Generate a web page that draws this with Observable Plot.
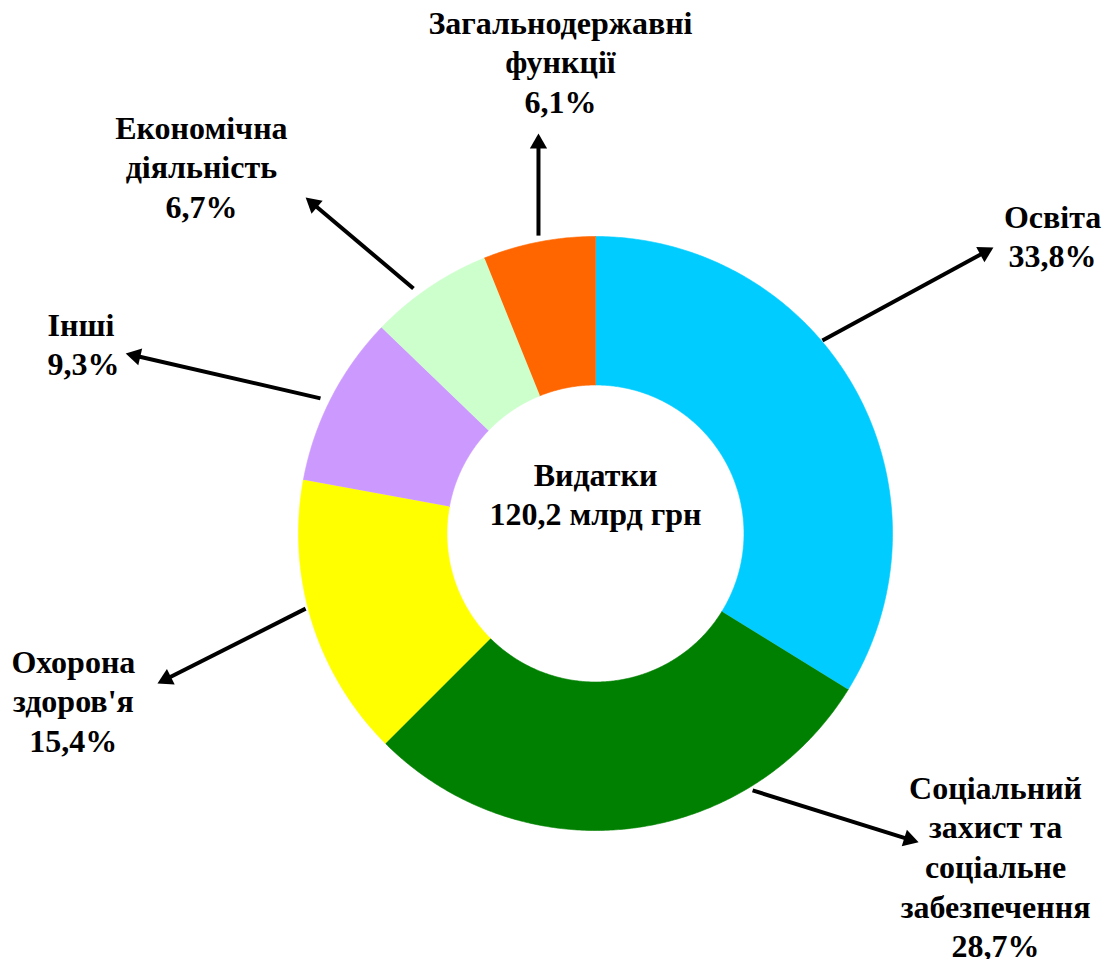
<!DOCTYPE html>
<html>
<head>
<meta charset="utf-8">
<script src="https://cdn.jsdelivr.net/npm/d3@7"></script>
<script src="https://cdn.jsdelivr.net/npm/@observablehq/plot@0.6"></script>
<style>
  html, body { margin: 0; padding: 0; background: #ffffff; }
  #chart svg { display: block; }
</style>
</head>
<body>
<div id="chart"></div>
<script>
// ---- data ----
const categories = ["Освіта", "Соціальний захист та соціальне забезпечення", "Охорона здоров'я", "Інші", "Економічна діяльність", "Загальнодержавні функції"];
const shares = [33.8, 28.7, 15.4, 9.3, 6.7, 6.1];
const colors = ["#00CCFF", "#008000", "#FFFF00", "#CC99FF", "#CCFFCC", "#FF6600"];
const labelNames = ["Освіта", "Соціальний\nзахист та\nсоціальне\nзабезпечення", "Охорона\nздоров'я", "Інші", "Економічна\nдіяльність", "Загальнодержавні\nфункції"];
const centerTitle = "Видатки\n120,2 млрд грн";

// annotation placement, in units of the outer radius (centre = 0,0)
const labelX = [1.539, 1.347, -1.758, -1.845, -1.327, -0.118];
const labelY = [1.125, -0.798, -0.374, 0.761, 1.424, 1.778];
const labelAlign = ["middle", "middle", "middle", "start", "middle", "middle"];
const centerY = 0.256;
const arrowX1 = [0.764, 0.529, -0.976, -0.926, -0.613, -0.192];
const arrowY1 = [0.650, -0.865, -0.253, 0.455, 0.825, 1.003];
const arrowX2 = [1.340, 1.088, -1.475, -1.582, -0.976, -0.192];
const arrowY2 = [0.963, -1.040, -0.505, 0.606, 1.131, 1.347];

const innerRatio = 0.5;
const W = 1107, H = 959;
const cx = 595, cy = 533, R = 297; // layout of the donut in the frame

// ---- build slice polygons ----
const slicePts = [];
let cum = 0;
shares.forEach((s, i) => {
  const a0 = cum / 100 * 2 * Math.PI;
  cum += s;
  const a1 = cum / 100 * 2 * Math.PI;
  const n = Math.max(2, Math.ceil((a1 - a0) / (Math.PI / 360)));
  for (let k = 0; k <= n; k++) {
    const a = a0 + (a1 - a0) * k / n;
    slicePts.push({cat: categories[i], color: colors[i], x: Math.sin(a), y: Math.cos(a)});
  }
  for (let k = n; k >= 0; k--) {
    const a = a0 + (a1 - a0) * k / n;
    slicePts.push({cat: categories[i], color: colors[i], x: innerRatio * Math.sin(a), y: innerRatio * Math.cos(a)});
  }
});

// ---- arrows ----
const headBack = 10 / R; // triangle centre behind the tip
const arrows = categories.map((c, i) => {
  const dx = arrowX2[i] - arrowX1[i], dy = arrowY2[i] - arrowY1[i];
  const len = Math.hypot(dx, dy);
  return {
    cat: c,
    x1: arrowX1[i], y1: arrowY1[i],
    hx: arrowX2[i] - dx / len * headBack,
    hy: arrowY2[i] - dy / len * headBack,
    rot: Math.atan2(dx, dy) * 180 / Math.PI
  };
});

const fmt = v => v.toFixed(1).replace(".", ",") + "%";
const labels = categories.map((c, i) => ({
  text: labelNames[i] + "\n" + fmt(shares[i]),
  x: labelX[i], y: labelY[i], align: labelAlign[i]
}));

const textOpts = {
  fontFamily: "Liberation Serif",
  fontWeight: "bold",
  fontSize: 32,
  lineHeight: 1.24,
  lineAnchor: "top",
  fill: "#000000"
};

const chart = Plot.plot({
  width: W,
  height: H,
  margin: 0,
  x: {domain: [-cx / R, (W - cx) / R], range: [0, W], axis: null},
  y: {domain: [(cy - H) / R, cy / R], range: [H, 0], axis: null},
  color: {type: "identity"},
  style: {background: "#ffffff", fontFamily: "Liberation Serif"},
  marks: [
    Plot.line(slicePts, {x: "x", y: "y", z: "cat", fill: "color", stroke: "color", strokeWidth: 0.6}),
    Plot.link(arrows, {x1: "x1", y1: "y1", x2: "hx", y2: "hy", stroke: "#000000", strokeWidth: 4}),
    Plot.dot(arrows, {x: "hx", y: "hy", symbol: "triangle", r: 6.4, rotate: "rot", fill: "#000000", stroke: "none"}),
    Plot.text(labels.filter(d => d.align === "middle"), {x: "x", y: "y", text: "text", textAnchor: "middle", ...textOpts}),
    Plot.text(labels.filter(d => d.align === "start"), {x: "x", y: "y", text: "text", textAnchor: "start", ...textOpts}),
    Plot.text([centerTitle], {x: 0, y: centerY, text: d => d, textAnchor: "middle", ...textOpts})
  ]
});
document.getElementById("chart").appendChild(chart);
</script>
</body>
</html>
